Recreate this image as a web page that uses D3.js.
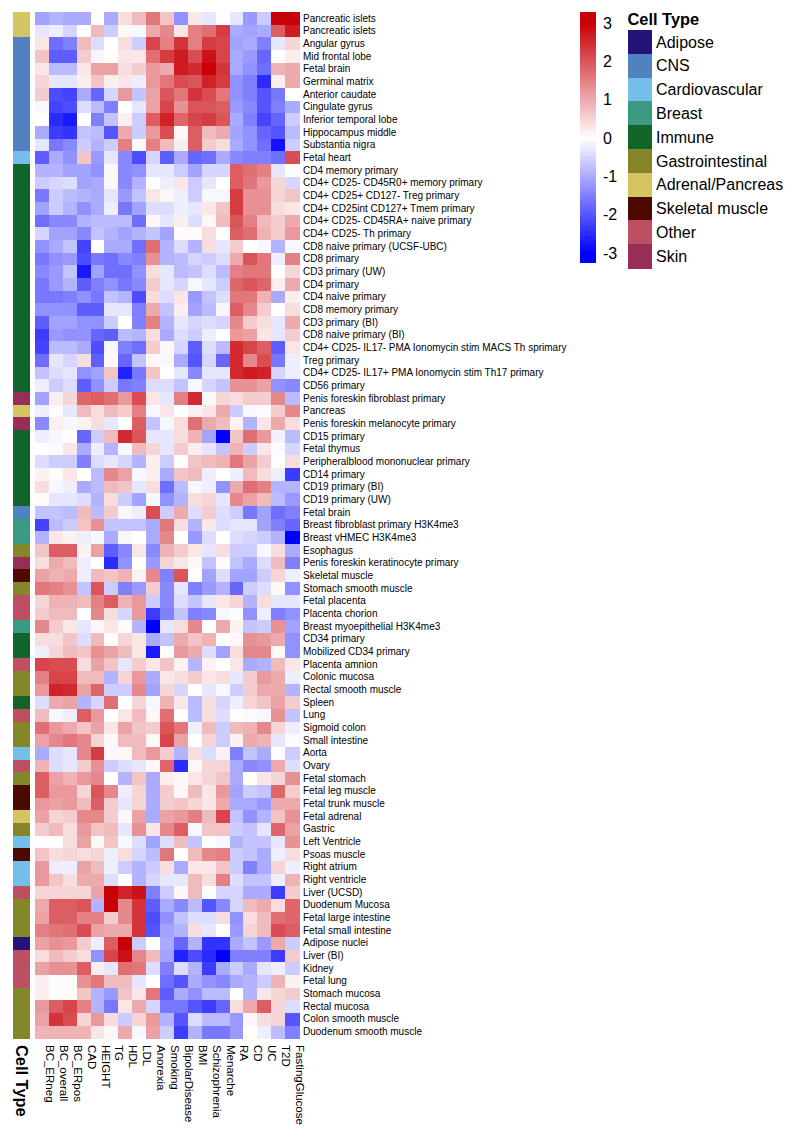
<!DOCTYPE html>
<html><head><meta charset="utf-8">
<script src="https://cdn.jsdelivr.net/npm/d3@7/dist/d3.min.js"></script>
<style>html,body{margin:0;padding:0;background:#fff}svg{display:block}text{font-family:"Liberation Sans",Arial,sans-serif;fill:#000}</style>
</head><body><svg id="c" width="800" height="1137"></svg>
<script>
const traits = ["BC_ERneg","BC_overall","BC_ERpos","CAD","HEIGHT","TG","HDL","LDL","Anorexia","Smoking","BipolarDisease","BMI","Schizophrenia","Menarche","RA","CD","UC","T2D","FastingGlucose"];
const tissues = ["Pancreatic islets","Pancreatic islets ","Angular gyrus","Mid frontal lobe","Fetal brain","Germinal matrix","Anterior caudate","Cingulate gyrus","Inferior temporal lobe","Hippocampus middle","Substantia nigra","Fetal heart","CD4 memory primary","CD4+ CD25- CD45R0+ memory primary","CD4+ CD25+ CD127- Treg primary","CD4+ CD25int CD127+ Tmem primary","CD4+ CD25- CD45RA+ naive primary","CD4+ CD25- Th primary","CD8 naive primary (UCSF-UBC)","CD8 primary","CD3 primary (UW)","CD4 primary","CD4 naive primary","CD8 memory primary","CD3 primary (BI)","CD8 naive primary (BI)","CD4+ CD25- IL17- PMA Ionomycin stim MACS Th sprimary","Treg primary","CD4+ CD25- IL17+ PMA Ionomycin stim Th17 primary","CD56 primary","Penis foreskin fibroblast primary","Pancreas","Penis foreskin melanocyte primary","CD15 primary","Fetal thymus","Peripheralblood mononuclear primary","CD14 primary","CD19 primary (BI)","CD19 primary (UW)","Fetal brain ","Breast fibroblast primary H3K4me3","Breast vHMEC H3K4me3","Esophagus","Penis foreskin keratinocyte primary","Skeletal muscle","Stomach smooth muscle","Fetal placenta","Placenta chorion","Breast myoepithelial H3K4me3","CD34 primary","Mobilized CD34 primary","Placenta amnion","Colonic mucosa","Rectal smooth muscle","Spleen","Lung","Sigmoid colon","Small intestine","Aorta","Ovary","Fetal stomach","Fetal leg muscle","Fetal trunk muscle","Fetal adrenal","Gastric","Left Ventricle","Psoas muscle","Right atrium","Right ventricle","Liver (UCSD)","Duodenum Mucosa","Fetal large intestine","Fetal small intestine","Adipose nuclei","Liver (BI)","Kidney","Fetal lung","Stomach mucosa","Rectal mucosa","Colon smooth muscle","Duodenum smooth muscle"];
const typeNames = ["Adipose","CNS","Cardiovascular","Breast","Immune","Gastrointestinal","Adrenal/Pancreas","Skeletal muscle","Other","Skin"];
const typeColors = ["#26137a","#5082bf","#74bfea","#3a9b84","#136428","#85862a","#d4c462","#4d0a00","#bd4f63","#982d55"];
const tissueTypes = [6,6,1,1,1,1,1,1,1,1,1,2,4,4,4,4,4,4,4,4,4,4,4,4,4,4,4,4,4,4,9,6,9,4,4,4,4,4,4,1,3,3,5,9,7,5,8,8,3,4,4,8,5,5,4,8,5,5,2,8,5,7,7,6,5,2,7,2,2,8,5,5,5,0,8,8,8,5,5,5,5];
const colorTicks = [3,2,1,0,-1,-2,-3];
const values = [
[-1.1,-0.9,-1,-1,0,-1,0.4,0.8,1.6,0.7,-1.3,0.3,-0.3,0,-0.3,-1.2,-0.6,3,3],
[-0.3,-0.2,-0.5,0,0.8,-0.6,0.1,-0.1,1,1.4,0.3,1.5,1.7,2.3,-1,-1.1,-1,1.9,2.7],
[0.3,-1.7,-1.5,0.8,-0.4,0,0.4,-0.6,2.2,1.5,2.4,1.5,2.3,2.2,-1.1,-1,-1.5,-0.3,0.5],
[0.7,-1.9,-1.9,0.6,-0.1,0,0.3,0.3,1.7,2.3,2.7,2.1,2.8,2.2,-1,-1.2,-1.8,0,0.2],
[0.3,-0.8,-0.8,0.3,1.1,1.1,0.4,0.6,1.2,1,2.7,2.5,3,2.4,-1,-1.3,-1.7,0.9,1],
[0.5,-0.3,-0.3,0.2,0.7,0.2,0.3,-0.2,1.2,1.6,2.1,2,2.6,2.3,-1.3,-1.5,-2.5,0.2,1],
[0.6,-2.1,-2.2,-1,-1.8,-0.5,1.2,-0.7,1.1,2,1.6,2.4,2.1,1.6,-1.3,-1.5,-2,-1.6,0],
[-0.1,-2.2,-2.1,-0.4,-0.8,-1.5,0,-0.3,1.1,2.2,1.3,2,2,1.9,-1.2,-1.4,-2,-1.5,-1],
[0,-2.5,-2.7,0,-1.5,-0.7,0.2,-0.6,1.9,2.6,1.8,2.2,2.3,2,-1,-1.5,-2.2,-1.8,-0.6],
[-1,-2.3,-2.4,-0.7,-0.8,-2,1,-0.6,1.2,2.1,0.1,1.9,0.8,1,-1.1,-1.3,-1.8,-2,-0.8],
[-0.3,-1.6,-1.4,-0.6,-0.9,-0.6,1.5,0.1,1.5,0.8,0.2,1.9,0.6,0.4,-1,-1.3,-1.7,-2.8,-0.6],
[-1.9,-1,-1.3,0.7,-1.2,-0.3,-1.4,-2.1,-0.5,-1.9,-1,-1.8,-1.7,-1,-1.4,-1.5,-1.5,-1.7,2.1],
[-0.9,-0.9,-1.1,-1.1,-1.3,0.1,-1.4,-1.3,-0.3,-0.3,-0.6,-1.1,-0.5,-0.5,1.9,1.7,1.5,-0.3,0.05],
[-0.6,-0.5,-0.4,-1.1,-1,0.1,-1.4,-0.9,0,-0.2,0.3,-0.6,-0.3,0,1.9,1.6,1.2,0.5,-0.5],
[-1.6,-0.6,-0.8,-0.9,-1,-0.3,-1.2,-0.7,0.3,0.1,-0.2,-0.6,-0.1,-0.1,2.3,1.3,1.3,0.5,0.7],
[-1.1,-0.6,-0.9,-1.3,-1,-0.2,-1.6,-1.1,-0.4,-0.4,-0.2,-0.3,0.3,0.7,2.3,1.3,1.3,0.4,0.3],
[-1.7,-1.4,-1.4,-0.9,-0.8,-0.8,-0.8,-1.7,0.1,-0.3,0.2,-0.4,0.1,0.8,2,1.5,0.8,0.6,1],
[-0.5,-1.1,-1.1,-1.4,-0.7,-0.9,-1.1,-0.9,-0.7,-1.1,0.05,0.05,0.4,0,1.9,1.7,0.9,0.6,1.2],
[-1.3,-1,-0.7,-2.2,0,-1,-1,-1.7,1.7,-0.9,-0.4,-0.9,0.4,-0.3,0.6,0,-0.1,-0.9,-0.1],
[-1.6,-1.3,-1.2,-2.1,-1.6,-1.7,-1.4,-1.5,1.3,-0.9,-0.8,-0.5,-0.6,-0.4,1,2,1.6,-0.2,1.5],
[-1.4,-1.2,-0.7,-2.7,-1.1,-1.7,-1.7,-1.3,0.4,-0.3,-0.8,-0.7,-0.4,-0.8,1.5,1.6,1.6,0,0.5],
[-1.6,-1.2,-0.9,-1.9,-1.5,-1.3,-1.6,-1.4,0.6,-0.3,-0.5,-0.1,-0.3,-0.6,1.8,2,1.8,0.2,1],
[-1.6,-1.6,-1.5,-1.3,-1.6,-0.7,-0.9,-2.1,0.4,-0.4,0.3,-1.2,-0.7,-0.4,1.6,1.6,0.9,-1,0.2],
[-1.3,-1.3,-1.3,-1.9,-1.9,-0.3,-0.3,-1.5,1,-0.7,0.2,-1.1,-0.8,-0.1,1.9,1.4,0.6,0,0.4],
[-1.9,-1.1,-1.1,-1.3,-1.3,-0.6,0,-1.5,1.5,-0.9,-0.3,-0.5,-0.4,-0.5,1.4,0.6,0.4,-0.3,1],
[-2.3,-1.2,-1.3,-1.3,-1.8,-1.9,-0.8,-0.9,0.4,-1,-0.4,-0.6,-0.2,0,1.2,1.1,0.3,-0.3,0.6],
[-2.2,-0.8,-0.8,-1,-2.1,-0.1,-1.5,-1.7,0.6,0.1,-0.5,-1.9,-0.4,-0.8,2.5,2.2,1.9,-1.9,0.3],
[-1.7,-0.3,-0.5,0.4,-1.9,0.1,-1.8,-0.7,0.1,-0.1,-1,-2,-0.5,-1.8,2.5,1.4,2.1,-1.6,-0.2],
[-0.7,-0.4,-0.3,-1.3,-1.1,0.7,-2.6,-1.6,0.7,0,-0.3,-1.4,-0.3,-0.3,2.5,2.7,2.6,-0.5,-0.2],
[-0.2,-0.6,-0.4,-1.9,-1.3,-0.6,-1.6,-1.5,-0.4,-0.4,-0.7,-0.1,-0.5,-0.7,1.3,1.3,1.1,-1.3,-1.4],
[-1.1,0.2,0.5,1.8,1.9,1.7,1.2,2.1,0.3,-0.3,1.5,2.5,0.1,0.5,0.4,0.6,0.6,1.4,-0.8],
[-0.2,-0.05,-0.3,0.8,0.4,0.8,0.6,1.5,-0.1,0.3,0,0.15,0.3,1,-0.6,-0.1,-0.05,0.6,1.4],
[-1.4,0.2,-0.1,0.15,0.4,-0.3,0,1.9,-0.7,-0.1,0.4,1.7,1,0.8,0.15,-0.9,0.3,1,0.4],
[-0.2,-0.1,0,-1.8,-0.6,0.8,2.5,2,-0.3,-0.3,0.4,0.9,-1.1,-3,0.7,1.7,1.2,-0.15,-0.8],
[0,-0.05,0.3,-1,-0.2,-0.9,-0.1,0.8,0.5,-0.3,0.6,0.2,-0.3,-0.7,0.9,-0.6,0.3,-0.05,-0.5],
[-0.4,-0.6,-0.6,-1.5,-0.4,-0.3,-0.5,-0.9,0.2,-0.6,0.02,0.7,0.8,0.9,1.6,1.1,0.6,0,0.4],
[0.15,0.05,0.3,0,-0.8,1.4,1.1,-0.1,0.2,-1,0.7,0.8,-0.2,0,-0.2,0.8,0.4,-0.2,-2.3],
[0.4,-0.1,-0.2,-1,-0.8,0.8,0.7,-0.3,0.4,-1.7,-0.8,-0.1,-0.2,-1.3,1,1.7,1.5,-0.9,-0.9],
[0.05,-0.3,-0.3,-0.4,-0.9,0.4,-0.6,-1.1,-0.1,-1.3,-0.9,0.4,0.5,-0.3,1.4,1.1,0.8,-0.8,-1.2],
[-0.7,-0.7,-0.8,0.8,-0.8,0.6,-0.1,-0.2,2.1,-0.6,1,-0.4,0.6,-0.4,-0.6,-1.6,-1.1,-1.7,-1.5],
[-2.2,-0.8,-0.6,0.7,1.3,-0.7,-0.7,-0.7,-1,1.6,0.4,-0.9,0.3,-0.4,-0.3,-0.3,-1.1,-1.5,-1.8],
[-0.9,0.3,0.15,-0.2,-0.1,-1,-0.1,0,-1,1.4,0,-1.2,-0.4,0,-0.4,-0.5,-0.6,-0.9,-3],
[0.7,1.9,1.9,0.15,1.1,-1.9,-1.4,0.3,-1.4,0.9,0.6,0.3,-0.3,0.4,-0.6,-0.6,-0.1,0.4,-1],
[0.4,1,0.8,-0.2,0,-2.5,-1.3,0,-1.2,0.5,0.3,0.1,-0.7,-0.05,-0.7,-1,-0.4,0.8,-1.5],
[1.1,0.9,1,-0.2,0.8,0.7,0.9,0.15,1.4,-1.5,2,0,-1.1,-0.4,-1.1,-1.1,-0.6,0.5,-0.2],
[1.6,1.5,1.3,-0.7,2,-0.6,-1.5,-1.2,0.6,-1.4,-0.3,-1.5,-1.2,-0.9,-1.8,-0.6,-0.4,0.1,-1.3],
[0.5,0.9,0.9,0.8,1.5,1.9,0.9,1.2,-0.6,-1.4,-0.4,-0.7,-0.3,0.3,0.5,-0.9,0.4,-0.3,-0.3],
[0.6,0.8,0.8,0,1.4,0.4,-0.5,1.2,-2.3,-1.5,-0.7,-1.5,-1.4,-0.1,-0.03,-1.3,-0.2,-1.5,-1.3],
[1.4,0.6,0.3,-0.3,0.1,0.3,0.05,-0.9,-3,-0.3,0.4,1.4,0,1,0.15,-0.7,-0.6,1.3,-1.1],
[0.4,0.4,0.7,-0.4,0.8,0,0.5,0.3,-1,-0.7,1,0.7,0.9,0,0.1,1.3,1.2,1,-1.3],
[-0.2,0.5,0.8,0.7,1.3,1.1,0.8,0.3,-2.7,0,1.2,1,-0.4,-1.1,0.4,1.4,1.4,0.1,-1.3],
[2.2,2.1,2.1,0.4,1.1,0.7,-0.3,0.6,0.3,0.7,0.15,-0.9,0.15,0,0.3,-1,-0.9,0.8,0.3],
[1.5,2.2,2.2,0.8,0.8,-0.9,0.5,1.2,-1,0.3,0.4,0.6,0.3,0.4,-0.3,0.6,1.2,1,-0.2],
[1.2,2.6,2.5,1.1,1.8,-0.6,-0.6,1.4,-1.1,0.5,-0.5,0,-0.3,-0.1,-0.6,0.6,1,1,-0.9],
[-0.4,1,1.1,-0.9,-0.5,1.7,0,0.5,-0.1,0.9,0.3,-0.8,0.4,-0.5,-0.2,0.5,0.7,1.1,0.6],
[0.8,-0.1,-0.2,1.9,1.2,0,0.3,0.8,0.1,1.7,0,-0.8,0.4,-0.4,0.02,-0.05,-0.1,1.3,-0.7],
[1.7,1.2,1,0.7,1.1,0.3,1.1,0.7,0.6,2,1.6,-0.2,0.8,-0.6,0.8,0.9,1.4,0.5,-0.2],
[1.1,1.4,1.6,1.4,0.5,0.1,0.8,0.8,0.1,2.2,1.1,0,0.5,-0.6,0.15,1,0.9,-0.3,-0.05],
[-1,-0.4,-0.3,1.4,2.3,0.1,0.1,0.8,1.2,0.6,-0.9,0.4,-0.4,0.15,-1.5,-0.7,-1,-0.02,-0.6],
[0.9,-0.4,-0.3,0.6,1.3,-0.6,-0.4,-0.3,0.1,1.8,-2.5,0.1,0.5,0.5,-1,-1.4,-1.3,1,-0.4],
[1.9,1.1,0.9,1.2,1.4,0,-0.9,0.7,-1,0.2,0.1,0.3,0.5,0.7,-1,0,0.3,0.5,1.3],
[1.9,1.2,1.2,0.5,2,1.4,-0.2,0.5,-1,0.6,0.1,0.8,0.3,1.2,-1.1,-0.6,-0.7,1.8,0.6],
[1.2,1.1,1.2,0.8,1.9,0.6,-0.3,0.5,-1,0.6,0.7,0.5,0.3,1,-1,-1,-1.2,1,1],
[1.1,0.5,0.6,1.4,1.4,0.6,0.1,1.1,-1,1.1,1.2,1.5,0.8,2.2,-0.7,-1.3,-0.9,0.7,1.3],
[0.6,0.8,0.4,1.2,0.7,0.8,-0.3,1.3,0.3,1.4,1.9,-0.1,0.7,0.7,-0.6,-0.7,-0.3,1.8,1.1],
[0.02,0.02,0.4,1.1,0.1,0.7,-0.1,-0.4,-1.1,-0.4,0.8,-0.7,0,-0.1,-0.9,-0.7,-0.7,-0.3,1.3],
[0.7,0.4,0.5,0.4,0.5,-0.2,0.4,-0.5,-0.8,1.6,0,0.8,1.4,1.5,-0.6,-0.7,-1,-0.2,0.4],
[1.2,-0.2,-0.2,1.1,0.8,-0.2,-0.6,-0.9,-0.6,0.4,-1,0.3,0.3,0.7,-0.6,-1.5,-1,0.5,-0.2],
[1.2,0.7,0.4,1,1,-0.4,0,-0.9,-0.5,-0.3,-0.3,0.8,0.4,1.5,-0.4,-0.7,-0.7,-0.2,0.9],
[0.5,0.5,0.5,0.5,1.1,3,2.6,2.8,-1.5,-0.6,0.1,0.8,0,-0.5,-0.5,-1,-1,-2.3,0.6],
[1,1.9,1.9,2,-0.9,3,1.4,2.4,-1.9,-1,-1.4,-0.8,-2,-1.4,-0.5,0.8,1,0.4,1.8],
[1.1,1.9,1.9,1.5,1.5,0.6,1.4,2.4,-2.1,-1.3,-0.7,-0.4,-0.4,0.4,-1.3,0.4,0.8,1.7,1.8],
[1.5,1.6,1.7,2.1,1.1,1,1,2.4,-2,-1.1,-0.9,0.4,-0.3,0.02,-1.2,0.5,0.8,2.1,1.9],
[1.1,1.3,1.2,0.6,-0.2,1.9,3,-0.6,0,-1,-1.8,-0.9,-2.4,-2.4,-1,-0.7,-1.2,1,-0.6],
[0.4,0.8,0.6,0.4,-1.3,2.2,2.8,1.4,0.8,-1.1,-2.6,-2.1,-2.5,-3,-1.5,-1.5,-1.5,-2.3,0.6],
[1.1,1.3,1.3,1.9,0.2,-0.3,1.7,1.6,-0.4,-1.5,-0.4,-0.9,-2.3,-1,-0.6,-1,-0.3,-0.2,-0.6],
[0.2,0.05,0.05,1.3,1.6,0.8,0.8,-0.3,0,-1.7,-2,-1,-1.3,-1.4,-1,-0.9,-0.6,0.9,0.15],
[0.2,0.05,0.05,0.7,-0.9,-1.2,0.7,0.3,1.6,-1.9,-1,-1.3,-0.8,-0.8,0,-0.9,0.3,0.5,0.6],
[1.2,1.9,2.2,1.5,-0.9,-1.6,0.3,1,-0.5,-1.6,-1.6,-2,-2.3,-1.8,0.4,1,1.9,0.5,-0.4],
[1.1,2.4,2.1,0.5,1.2,0.4,-0.6,0.5,1.2,-0.9,-2,-0.4,-0.8,-0.8,-1.2,0.1,0.4,0.5,-2],
[0.9,0.9,0.9,0.9,0.3,0.1,1,-0.1,1.1,-0.6,-2.3,-0.9,-1.6,-1.6,-1.2,0,-0.2,-0.8,-1.5]
];

const svg = d3.select("#c");
const x = d3.scaleBand().domain(traits).range([35, 299]);
const y = d3.scaleBand().domain(tissues).range([12, 1038.3]);
const color = d3.scaleLinear().domain([-3, 0, 3]).range(["#0000ff", "#ffffff", "#c80008"]).clamp(true);

// heat cells
const cells = svg.append("g").attr("shape-rendering", "crispEdges");
tissues.forEach((t, r) => {
  cells.selectAll(null).data(traits).join("rect")
    .attr("x", d => x(d)).attr("y", y(t))
    .attr("width", x.bandwidth() + 0.5).attr("height", y.bandwidth() + 0.5)
    .attr("fill", (d, c) => color(values[r][c]));
});

// cell type annotation column
svg.append("g").attr("shape-rendering", "crispEdges").selectAll("rect").data(tissues).join("rect")
  .attr("x", 13.3).attr("width", 17).attr("y", d => y(d)).attr("height", y.bandwidth() + 0.5)
  .attr("fill", (d, i) => typeColors[tissueTypes[i]]);

// row labels
const yAxis = svg.append("g").attr("transform", "translate(299,0)")
  .call(d3.axisRight(y).tickSize(0).tickPadding(4));
yAxis.select(".domain").remove();
yAxis.selectAll("text").style("font-family", '"Liberation Sans"').style("font-size", "10px").attr("fill", "#000");

// column labels
const xAxis = svg.append("g").attr("transform", "translate(0,1041)")
  .call(d3.axisBottom(x).tickSize(0).tickPadding(0));
xAxis.select(".domain").remove();
xAxis.selectAll("text").style("font-family", '"Liberation Sans"').style("font-size", "11.5px").attr("fill", "#000")
  .attr("transform", "rotate(90)").attr("text-anchor", "start").attr("dx", 4).attr("dy", "-0.35em").attr("y", 0).attr("x", 0);

svg.append("text").text("Cell Type").attr("transform", "translate(15.5,1045) rotate(90)")
  .style("font-size", "16.4px").style("font-weight", "bold");

// colour bar
const barY = d3.scaleLinear().domain([-3, 3]).range([253, 23]);
const barTop = barY.invert(12), barBottom = barY.invert(262);
const stripes = d3.range(100);
const stripeV = d3.scaleLinear().domain([0, 100]).range([barTop, barBottom]);
svg.append("g").attr("shape-rendering", "crispEdges").selectAll("rect").data(stripes).join("rect")
  .attr("x", 580).attr("width", 16)
  .attr("y", d => barY(stripeV(d)))
  .attr("height", d => barY(stripeV(d + 1)) - barY(stripeV(d)) + 0.5)
  .attr("fill", d => color(stripeV(d + 0.5)));
const barAxis = svg.append("g").attr("transform", "translate(596,0)")
  .call(d3.axisRight(barY).tickValues(colorTicks).tickFormat(d => String(d)).tickSize(0).tickPadding(7));
barAxis.select(".domain").remove();
barAxis.selectAll("text").style("font-family", '"Liberation Sans"').style("font-size", "16px").attr("fill", "#000");

// cell type legend
svg.append("text").text("Cell Type").attr("x", 627.5).attr("y", 25)
  .style("font-size", "16.4px").style("font-weight", "bold");
const ly = d3.scaleBand().domain(typeNames).range([30, 268]);
svg.append("g").attr("shape-rendering", "crispEdges").selectAll("rect").data(typeNames).join("rect")
  .attr("x", 627.5).attr("width", 24).attr("y", d => ly(d)).attr("height", ly.bandwidth() + 0.5)
  .attr("fill", (d, i) => typeColors[i]);
svg.append("g").selectAll("text").data(typeNames).join("text")
  .text(d => d).attr("x", 656).attr("y", d => ly(d) + ly.bandwidth() / 2).attr("dy", "0.36em")
  .style("font-size", "16px");
</script></body></html>
